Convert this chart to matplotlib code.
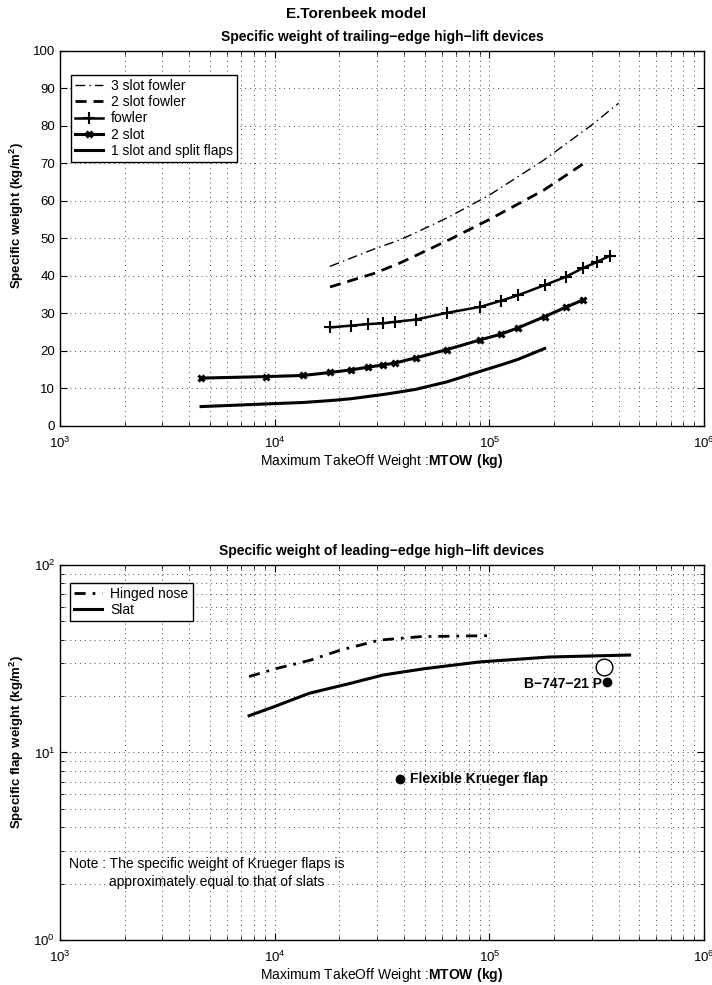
import numpy as np
import matplotlib
matplotlib.use('Agg')
import matplotlib.pyplot as plt
from matplotlib.ticker import LogLocator, NullFormatter, MultipleLocator

plt.rcParams['font.family'] = ['Liberation Sans', 'DejaVu Sans']
plt.rcParams['mathtext.fontset'] = 'custom'
plt.rcParams['mathtext.rm'] = 'Liberation Sans'
plt.rcParams['mathtext.bf'] = 'Liberation Sans:bold'
plt.rcParams['font.size'] = 10

# trailing-edge devices (MTOW kg -> kg/m2)
three_fowler_x = [18100, 29000, 38000, 44000, 65000, 100000, 179000, 300000, 400000]
three_fowler_y = [42.5, 47.1, 49.5, 51.1, 55.7, 61.5, 70.8, 80.2, 86.0]

two_fowler_x = [18100, 29000, 38000, 44000, 65000, 100000, 179000, 273000]
two_fowler_y = [37.0, 40.6, 43.3, 45.0, 49.6, 55.0, 62.8, 69.8]

fowler_x = [18100, 22700, 27200, 31800, 36300, 45400, 63500, 90700, 113000,
            136000, 181000, 227000, 272000, 318000, 363000]
fowler_y = [26.2, 26.7, 27.1, 27.3, 27.7, 28.3, 30.1, 31.7, 33.3,
            34.8, 37.5, 39.7, 42.0, 43.7, 45.3]

two_slot_x = [4540, 9070, 13600, 18100, 22700, 27200, 31800, 36300, 45400,
              63500, 90700, 113000, 136000, 181000, 227000, 272000]
two_slot_y = [12.7, 13.1, 13.4, 14.2, 14.9, 15.6, 16.2, 16.7, 18.1,
              20.3, 22.9, 24.4, 26.1, 29.1, 31.6, 33.5]

one_slot_x = [4540, 9070, 13600, 18100, 22700, 27200, 31800, 36300, 45400,
              63500, 90700, 113000, 136000, 181000]
one_slot_y = [5.1, 5.8, 6.2, 6.7, 7.2, 7.8, 8.3, 8.8, 9.7,
              11.7, 14.5, 16.2, 17.7, 20.6]

# leading-edge devices
hinged_x = [7600, 10000, 14700, 20300, 31000, 48000, 100000]
hinged_y = [25.4, 27.9, 31.1, 35.2, 39.8, 41.5, 42.0]

slat_x = [7600, 10000, 14500, 22600, 32000, 50000, 90000, 190000, 450000]
slat_y = [15.7, 17.6, 20.7, 23.4, 25.9, 28.0, 30.4, 32.3, 33.1]

b747_open = (343000, 28.7)
b747_dot = (352000, 23.9)
krueger_dot = (38400, 7.2)

xlab = 'Maximum TakeOff Weight :$\\bf{MTOW\\ (kg)}$'
grid_ls = (0, (1, 4))

fig = plt.figure(figsize=(7.12, 9.85), dpi=100)
ax1 = fig.add_axes([0.0843, 0.5678, 0.9045, 0.3807])
ax2 = fig.add_axes([0.0843, 0.0457, 0.9045, 0.3807])


def style(ax):
    ax.set_xscale('log')
    ax.set_xlim(1e3, 1e6)
    ax.xaxis.set_major_locator(LogLocator(base=10, numticks=10))
    ax.xaxis.set_minor_locator(LogLocator(base=10, subs=np.arange(2, 10), numticks=20))
    ax.xaxis.set_minor_formatter(NullFormatter())
    ax.tick_params(which='both', direction='in', top=True, right=True, labelsize=9.5)
    ax.tick_params(axis='x', which='major', pad=7)
    ax.tick_params(which='major', length=5)
    ax.tick_params(which='minor', length=3)
    ax.grid(True, which='both', axis='x', linestyle=grid_ls, color='0.3', lw=0.7)
    for s in ax.spines.values():
        s.set_linewidth(1.0)
    ax.set_xlabel(xlab, fontsize=10, labelpad=1)


# top chart
ax1.plot(three_fowler_x, three_fowler_y, 'k', ls=(0, (7, 3, 1, 3)), lw=1.0, label='3 slot fowler')
ax1.plot(two_fowler_x, two_fowler_y, 'k', ls=(0, (4, 2.5)), lw=2.0, label='2 slot fowler')
ax1.plot(fowler_x, fowler_y, 'k-', lw=1.8, marker='+', ms=8, mew=1.5, label='fowler')
ax1.plot(two_slot_x, two_slot_y, 'k-', lw=2.2, marker='x', ms=5, mew=2.2, label='2 slot')
ax1.plot(one_slot_x, one_slot_y, 'k-', lw=2.2, label='1 slot and split flaps')
style(ax1)
ax1.set_ylim(0, 100)
ax1.yaxis.set_major_locator(MultipleLocator(10))
ax1.grid(True, which='major', axis='y', linestyle=grid_ls, color='0.3', lw=0.7)
ax1.set_ylabel('Specific weight (kg/m$^{\\mathbf{2}}$)', fontsize=9.5, fontweight='bold')
ax1.yaxis.set_label_coords(-0.053, 0.56)
ax1.set_title('Specific weight of trailing\u2212edge high\u2212lift devices',
              fontsize=10, fontweight='bold', pad=7)
leg1 = ax1.legend(loc='upper left', bbox_to_anchor=(0.0166, 0.935), fontsize=10,
                  fancybox=False, edgecolor='k', framealpha=1, handlelength=2.0,
                  borderpad=0.3, labelspacing=0.15, handletextpad=0.6, borderaxespad=0)
leg1.get_frame().set_linewidth(1.0)

fig.text(0.5, 1 - 14 / 985, 'E.Torenbeek model', ha='center', va='center',
         fontsize=11, fontweight='bold')

# bottom chart
ax2.plot(hinged_x, hinged_y, 'k', ls=(0, (4, 2.5, 1, 2.5)), lw=2.0, label='Hinged nose')
ax2.plot(slat_x, slat_y, 'k-', lw=2.2, label='Slat')
ax2.plot(*b747_open, 'o', mfc='white', mec='k', ms=12, mew=1.0)
ax2.plot(*b747_dot, 'ko', ms=6)
ax2.plot(*krueger_dot, 'ko', ms=6)
style(ax2)
ax2.set_yscale('log')
ax2.set_ylim(1, 100)
ax2.yaxis.set_minor_locator(LogLocator(base=10, subs=np.arange(2, 10), numticks=20))
ax2.yaxis.set_minor_formatter(NullFormatter())
ax2.grid(True, which='both', axis='y', linestyle=grid_ls, color='0.3', lw=0.7)
ax2.set_ylabel('Specific flap weight (kg/m$^{\\mathbf{2}}$)', fontsize=9.5, fontweight='bold')
ax2.yaxis.set_label_coords(-0.053, 0.527)
ax2.set_title('Specific weight of leading\u2212edge high\u2212lift devices',
              fontsize=10, fontweight='bold', pad=7)
leg2 = ax2.legend(loc='upper left', bbox_to_anchor=(0.0155, 0.952), fontsize=10,
                  fancybox=False, edgecolor='k', framealpha=1, handlelength=2.0,
                  borderpad=0.3, labelspacing=0.15, handletextpad=0.6, borderaxespad=0)
leg2.get_frame().set_linewidth(1.0)

ax2.annotate('B\u2212747\u221221 P', xy=b747_dot, xytext=(-5, -2),
             textcoords='offset pixels', ha='right', va='center',
             fontsize=10, fontweight='bold')
ax2.annotate('Flexible Krueger flap', xy=krueger_dot, xytext=(10, 0),
             textcoords='offset pixels', ha='left', va='center',
             fontsize=10, fontweight='bold')
ax2.text(0.014, 0.203, 'Note : The specific weight of Krueger flaps is',
         transform=ax2.transAxes, ha='left', va='center', fontsize=10)
ax2.text(0.076, 0.155, 'approximately equal to that of slats',
         transform=ax2.transAxes, ha='left', va='center', fontsize=10)

fig.savefig('out.png', dpi=100)
